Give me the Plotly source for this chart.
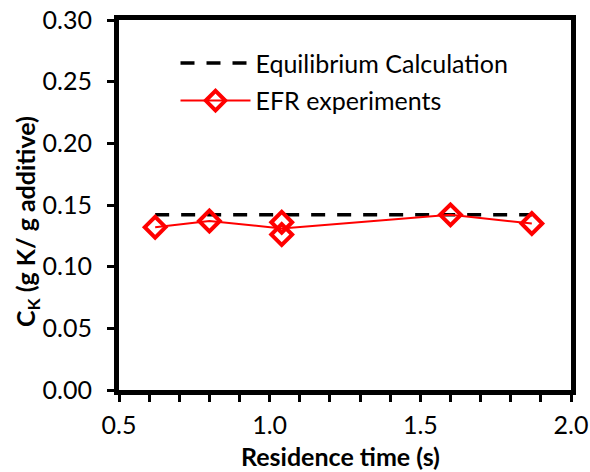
import plotly.graph_objects as go
import pandas as pd

# Data
residence_time = [0.62, 0.80, 1.04, 1.04, 1.60, 1.87]
ck_experiments = [0.132, 0.137, 0.136, 0.126, 0.142, 0.135]
eq_time = [0.62, 1.87]
eq_ck = [0.142, 0.142]

x_ticks = [0.5, 1.0, 1.5, 2.0]
x_tick_labels = ["0.5", "1.0", "1.5", "2.0"]
y_ticks = [0.00, 0.05, 0.10, 0.15, 0.20, 0.25, 0.30]
y_tick_labels = ["0.00", "0.05", "0.10", "0.15", "0.20", "0.25", "0.30"]
x_title = "<b>Residence time (s)</b>"
y_title = "<b>C<sub>K</sub> (g K/ g additive)</b>"

# Line passes through the mean of repeated experiments
df = pd.DataFrame({"t": residence_time, "ck": ck_experiments})
mean_line = df.groupby("t", as_index=False)["ck"].mean()

RED = "#FF0000"
FONT = "Lato"

fig = go.Figure()
fig.add_trace(go.Scatter(
    x=eq_time, y=eq_ck, mode="lines", name="Equilibrium Calculation",
    line=dict(color="black", width=3.5, dash="14px,12px"),
    legendgroup="a",
))
fig.add_trace(go.Scatter(
    x=mean_line["t"], y=mean_line["ck"], mode="lines",
    line=dict(color=RED, width=2), showlegend=False, hoverinfo="skip",
))
fig.add_trace(go.Scatter(
    x=residence_time, y=ck_experiments, mode="markers",
    marker=dict(symbol="diamond-open", size=16, color=RED, line=dict(width=4, color=RED)),
    showlegend=False,
))
fig.add_trace(go.Scatter(
    x=[None], y=[None], mode="lines+markers", name="EFR experiments",
    line=dict(color=RED, width=2),
    marker=dict(symbol="diamond-open", size=15, color=RED, line=dict(width=4, color=RED)),
    legendgroup="b",
))

axis_common = dict(
    showline=True, linecolor="black", linewidth=5, mirror=True,
    ticks="outside", tickcolor="black", tickwidth=3, ticklen=7,
    showgrid=False, zeroline=False, automargin=False,
    tickfont=dict(family=FONT, size=25, color="black"),
)

fig.update_layout(
    width=590, height=472,
    margin=dict(l=119, r=19, t=20, b=82),
    paper_bgcolor="white", plot_bgcolor="white",
    font=dict(family=FONT, color="black"),
    xaxis=dict(
        range=[0.5, 2.0], tickvals=x_ticks, ticktext=x_tick_labels,
        minor=dict(dtick=0.1, tick0=0.5, ticks="outside", ticklen=7, tickwidth=3, tickcolor="black"),
        ticklabelstandoff=2,
        **axis_common,
    ),
    yaxis=dict(
        range=[0, 0.30], tickvals=y_ticks, ticktext=y_tick_labels,
        ticklabelstandoff=10,
        **axis_common,
    ),
    legend=dict(
        x=0.125, y=0.945, xanchor="left", yanchor="top",
        font=dict(family=FONT, size=25, color="black"),
        bgcolor="rgba(0,0,0,0)", itemwidth=70,
        traceorder="grouped", tracegroupgap=2,
    ),
    showlegend=True,
    annotations=[
        dict(text=x_title, xref="paper", yref="paper", x=0.49, y=-0.178,
             xanchor="center", yanchor="middle", showarrow=False,
             font=dict(family=FONT, size=25, color="black")),
        dict(text=y_title, xref="paper", yref="paper", x=-0.205, y=0.455,
             xanchor="center", yanchor="middle", textangle=-90, showarrow=False,
             font=dict(family=FONT, size=25, color="black")),
    ],
)

fig.write_html("out.html")
